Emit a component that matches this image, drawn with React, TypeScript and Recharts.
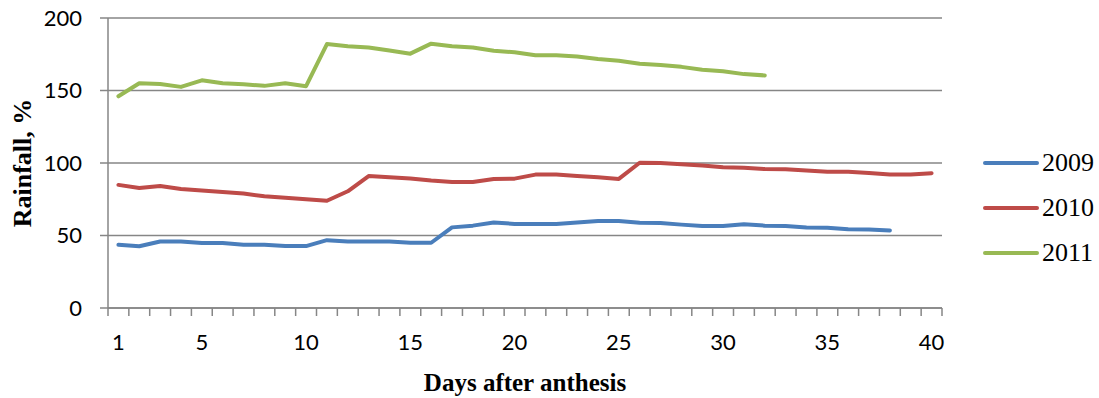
import { LineChart, Line, XAxis, YAxis, CartesianGrid } from "recharts";

const days = Array.from({ length: 40 }, (_, i) => i + 1);
const dayLabels = [1, 5, 10, 15, 20, 25, 30, 35, 40];
const rainTicks = [0, 50, 100, 150, 200];

const rain2009 = [
  43.6, 42.6, 45.9, 45.9, 44.8, 44.8, 43.7, 43.7, 42.7, 42.7,
  46.8, 45.8, 45.8, 45.8, 45.0, 45.0, 55.6, 56.8, 59.0, 58.0,
  58.0, 58.0, 59.0, 60.0, 60.0, 58.8, 58.7, 57.5, 56.5, 56.5,
  57.8, 56.8, 56.6, 55.5, 55.4, 54.3, 54.2, 53.5,
];
const rain2010 = [
  84.9, 82.8, 84.2, 82.1, 81.0, 80.0, 78.9, 77.0, 76.0, 75.0,
  74.0, 80.5, 91.0, 90.2, 89.3, 87.9, 86.9, 86.9, 89.0, 89.2,
  92.0, 92.0, 91.1, 90.2, 89.0, 100.2, 100.0, 99.2, 98.2, 97.1,
  96.8, 95.8, 95.7, 94.8, 93.9, 93.9, 93.1, 92.0, 92.0, 93.0,
];
const rain2011 = [
  146, 155, 154.5, 152.5, 157, 155, 154.3, 153.2, 155, 153,
  182, 180.5, 179.7, 177.6, 175.4, 182.3, 180.5, 179.6, 177.4, 176.4,
  174.3, 174.3, 173.5, 171.7, 170.5, 168.5, 167.6, 166.3, 164.3, 163.3,
  161.3, 160.4,
];

const series = [
  { key: "y2009", name: "2009", color: "#4A7EBB", values: rain2009 },
  { key: "y2010", name: "2010", color: "#BE4B48", values: rain2010 },
  { key: "y2011", name: "2011", color: "#98B954", values: rain2011 },
];

const rows = days.map((day, i) => {
  const row: Record<string, number | undefined> = { day };
  series.forEach((s) => {
    row[s.key] = s.values[i];
  });
  return row;
});

// Excel-style: tick marks between the categories, labels on the categories
const boundaryTicks = [...days.map((d) => d - 0.5), days[days.length - 1] + 0.5];
const xTicks = [...boundaryTicks, ...dayLabels].sort((a, b) => a - b);
const domain: [number, number] = [boundaryTicks[0], boundaryTicks[boundaryTicks.length - 1]];

const AXIS = "#868686";
const sans = "Lato, 'Open Sans', sans-serif";
const serif = "'Liberation Serif', 'DejaVu Serif', serif";
const MARK = 8;

// tickSize/tickMargin are 0, so x,y arrive on the axis line
function XTick({ x, y, payload }: any) {
  const v = payload.value;
  if (!Number.isInteger(v)) {
    return <line x1={x} x2={x} y1={y} y2={y + MARK} stroke={AXIS} strokeWidth={1.5} />;
  }
  return (
    <text x={x} y={y + 26} dy="0.71em" textAnchor="middle" fontFamily={sans} fontSize={22} fill="#000">
      {v}
    </text>
  );
}

function YTick({ x, y, payload }: any) {
  return (
    <g>
      <line x1={x - MARK} x2={x} y1={y} y2={y} stroke={AXIS} strokeWidth={1.5} />
      <text x={x - 26} y={y} dy="0.36em" textAnchor="end" fontFamily={sans} fontSize={22} fill="#000">
        {payload.value}
      </text>
    </g>
  );
}

function YTitle({ viewBox }: any) {
  const cx = viewBox.x + 22;
  const cy = viewBox.y + viewBox.height / 2;
  return (
    <text
      x={cx}
      y={cy}
      transform={`rotate(-90, ${cx}, ${cy})`}
      textAnchor="middle"
      dominantBaseline="central"
      fontFamily={serif}
      fontWeight="bold"
      fontSize={26}
      fill="#000"
    >
      Rainfall, %
    </text>
  );
}

function XTitle({ viewBox }: any) {
  return (
    <text
      x={viewBox.x + viewBox.width / 2}
      y={391}
      textAnchor="middle"
      fontFamily={serif}
      fontWeight="bold"
      fontSize={25}
      fill="#000"
    >
      Days after anthesis
    </text>
  );
}

export default function App() {
  return (
    <div style={{ position: "absolute", left: 0, top: 0, width: 1099, height: 398, background: "#fff" }}>
      <LineChart width={1099} height={398} data={rows} margin={{ top: 18, right: 157, left: 0, bottom: 0 }}>
        <CartesianGrid vertical={false} stroke={AXIS} strokeWidth={1.5} />
        <XAxis
          dataKey="day"
          type="number"
          domain={domain}
          ticks={xTicks}
          interval={0}
          height={90}
          tick={<XTick />}
          tickLine={false}
          tickSize={0}
          tickMargin={0}
          axisLine={{ stroke: AXIS, strokeWidth: 1.5 }}
          label={<XTitle />}
          allowDataOverflow
        />
        <YAxis
          domain={[0, 200]}
          ticks={rainTicks}
          interval={0}
          width={108}
          tickSize={0}
          tickMargin={0}
          tickLine={false}
          axisLine={{ stroke: AXIS, strokeWidth: 1.5 }}
          tick={<YTick />}
          label={<YTitle />}
        />
        {series.map((s) => (
          <Line
            key={s.key}
            dataKey={s.key}
            name={s.name}
            type="linear"
            stroke={s.color}
            strokeWidth={4}
            strokeLinecap="round"
            strokeLinejoin="round"
            dot={false}
            activeDot={false}
            isAnimationActive={false}
          />
        ))}
      </LineChart>
      {series.map((s, i) => (
        <div
          key={s.key}
          style={{
            position: "absolute",
            left: 983,
            top: 163 + i * 45 - 15,
            height: 30,
            display: "flex",
            alignItems: "center",
          }}
        >
          <span style={{ width: 56, height: 4, borderRadius: 2, background: s.color, display: "inline-block" }} />
          <span style={{ marginLeft: 3, fontFamily: serif, fontSize: 26, lineHeight: "30px", color: "#000" }}>{s.name}</span>
        </div>
      ))}
    </div>
  );
}
